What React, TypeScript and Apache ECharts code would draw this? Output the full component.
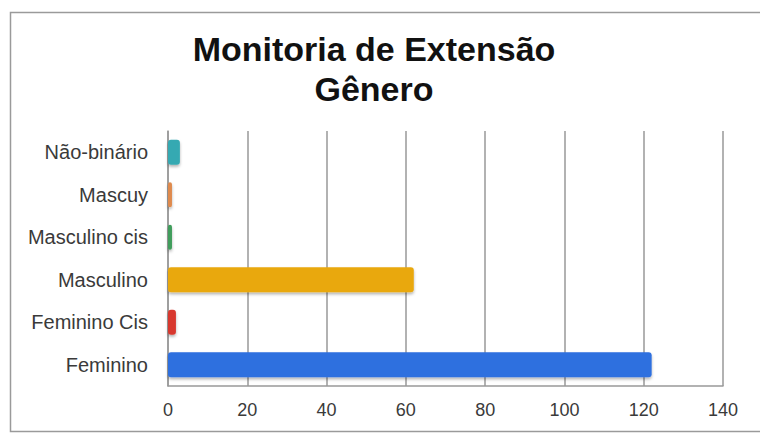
import React, { useEffect, useRef } from "react";
import * as echarts from "echarts";

const categories = ["Feminino", "Feminino Cis", "Masculino", "Masculino cis", "Mascuy", "Não-binário"];
const values = [122, 2, 62, 1, 1, 3];
const barColors = ["#2e6fdf", "#d8392f", "#e9a80d", "#3f9d5b", "#df8a4d", "#36a9b2"];
const titleText = "Monitoria de Extensão\nGênero";

export default function App() {
  const ref = useRef<HTMLDivElement>(null);
  useEffect(() => {
    document.body.style.margin = "0";
    const chart = echarts.init(ref.current!, null, { renderer: "svg" });
    chart.setOption({
      animation: false,
      backgroundColor: "#ffffff",
      title: {
        text: titleText,
        left: 369,
        textAlign: "center",
        top: 24,
        textStyle: {
          fontFamily: "Liberation Sans, Arial, sans-serif",
          fontSize: 34,
          fontWeight: "bold",
          color: "#111",
          lineHeight: 40,
        },
      },
      graphic: [
        {
          type: "rect",
          shape: { x: 10.5, y: 12.5, width: 760, height: 419 },
          style: { fill: "none", stroke: "#9a9a9a", lineWidth: 1.5 },
          silent: true,
        },
      ],
      grid: { left: 168, right: 37, top: 131, bottom: 48, containLabel: false },
      xAxis: {
        type: "value",
        min: 0,
        max: 140,
        interval: 20,
        axisLine: { show: true, lineStyle: { color: "#999", width: 1.5 } },
        axisTick: { show: false },
        splitLine: { show: true, lineStyle: { color: "#999", width: 1.5 } },
        axisLabel: {
          fontFamily: "Liberation Sans, Arial, sans-serif",
          fontSize: 18,
          color: "#3a3a3a",
          margin: 15,
        },
      },
      yAxis: {
        type: "category",
        data: categories,
        axisLine: { show: true, lineStyle: { color: "#999", width: 1.5 } },
        axisTick: { show: false },
        splitLine: { show: false },
        axisLabel: {
          fontFamily: "Liberation Sans, Arial, sans-serif",
          fontSize: 20,
          color: "#3a3a3a",
          margin: 20,
        },
      },
      series: [
        {
          type: "bar",
          data: values.map((v, i) => ({
            value: v,
            itemStyle: { color: barColors[i] },
          })),
          barWidth: 25,
          itemStyle: {
            borderRadius: 3,
            shadowBlur: 3,
            shadowColor: "rgba(0,0,0,0.3)",
            shadowOffsetY: 2,
          },
        },
      ],
    });
    return () => chart.dispose();
  }, []);
  return <div ref={ref} style={{ position: "fixed", left: 0, top: 0, width: 760, height: 434 }} />;
}
